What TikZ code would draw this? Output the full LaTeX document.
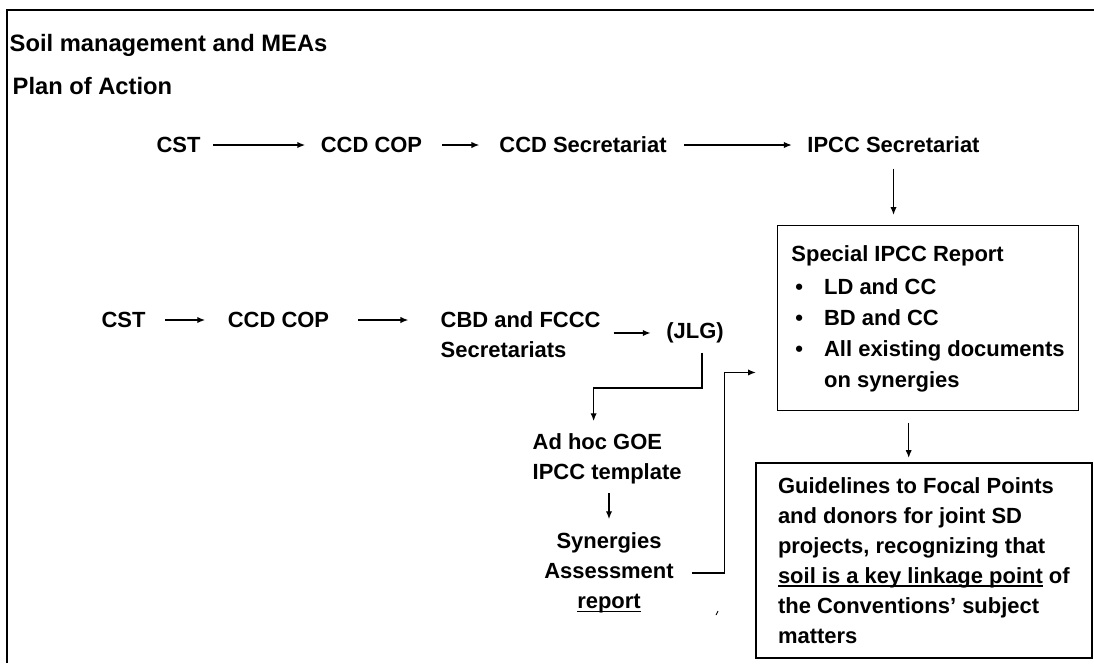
\documentclass[tikz,border=0pt]{standalone}
\usepackage{fontspec}
\setmainfont{Liberation Sans}
\usetikzlibrary{arrows.meta}
\newcommand{\ulbar}[1]{\setbox0\hbox{#1}\rlap{\rule[-2pt]{\wd0}{0.8pt}}\box0\relax}
\begin{document}
\begin{tikzpicture}[x=0.02cm, y=-0.02cm, >={Latex[length=4.5pt,width=3.6pt]}, line width=0.8pt,
    txt/.style={inner sep=0pt, font=\fontsize{12.5}{17}\selectfont\bfseries},
    head/.style={inner sep=0pt, anchor=west, font=\fontsize{13.5}{16}\selectfont\bfseries},
    box/.style={draw, anchor=north west, font=\fontsize{12.5}{17.6}\selectfont\bfseries}]
    \useasboundingbox (0,0) rectangle (1094,663);
    \draw[line width=1.2pt] (7,663) -- (7,10) -- (1094,10);

    \node[head] (title) at (9,45) {Soil management and MEAs};
    \node[head] (plan) at (12,86) {Plan of Action};

    \node[txt] (cstA) at (178.5,145) {CST};
    \node[txt] (copA) at (371.5,145) {CCD COP};
    \node[txt] (secA) at (583,145) {CCD Secretariat};
    \node[txt] (ipccSec) at (893.5,145) {IPCC Secretariat};

    \node[txt] (cstB) at (123.5,320) {CST};
    \node[txt] (copB) at (278.5,320) {CCD COP};
    \node[txt, anchor=west, align=left] (cbd) at (440,335) {CBD and FCCC\\Secretariats};
    \node[txt] (jlg) at (695,333) {(JLG)};
    \node[txt, anchor=west, align=left] (adhoc) at (532,459) {Ad hoc GOE\\IPCC template};
    \node[txt, align=center] (syn) at (609,573) {Synergies\\Assessment\\\ulbar{report}};

    \node[box, line width=0.6pt, minimum width=6.02cm, minimum height=3.7cm] (special) at (777,225) {%
        \begin{tabular}{@{}l@{\hspace{0.42cm}}l@{}}
        \multicolumn{2}{@{}l@{}}{Special IPCC Report}\\[1.5pt]
        \hspace{0.08cm}\textbullet & LD and CC\\
        \hspace{0.08cm}\textbullet & BD and CC\\
        \hspace{0.08cm}\textbullet & All existing documents\\
        & on synergies
        \end{tabular}};
    \node[box, line width=1pt, minimum width=6.72cm, minimum height=3.9cm, align=left, inner xsep=0.4cm,
        font=\fontsize{12.5}{17.07}\selectfont\bfseries] (guide) at (755,462)
        {Guidelines to Focal Points\\and donors for joint SD\\projects, recognizing that\\\ulbar{soil is a key linkage point} of\\the Conventions’ subject\\matters};

    \draw[->, shorten <=7pt, shorten >=8.5pt] (cstA) -- (copA);
    \draw[->, shorten <=11pt, shorten >=11pt] (copA) -- (secA);
    \draw[->, shorten <=9.5pt, shorten >=8.5pt] (secA) -- (ipccSec);
    \draw[->, shorten <=8.5pt, shorten >=5.7pt] (ipccSec.south) -- (ipccSec.south |- special.north);
    \draw[->, shorten <=6.8pt, shorten >=2.3pt] ([xshift=-11pt]special.south) -- ([xshift=-11pt]special.south |- guide.north);

    \draw[->, shorten <=11pt, shorten >=12.5pt] (cstB) -- (copB);
    \draw[->, shorten <=16pt, shorten >=18pt] (copB) -- (copB -| cbd.west);
    \draw[->, shorten <=7pt, shorten >=8.5pt] (cbd.east |- jlg.west) -- (jlg.west);
    \draw[->, shorten <=5pt, shorten >=6.8pt] ([xshift=4pt]jlg.south) -- ++(0,44) -| ([xshift=-7.7pt]adhoc.north);
    \draw[->, shorten <=4.8pt, shorten >=7.4pt] (adhoc.south -| syn.north) -- (syn.north);
    \draw[->, shorten <=10pt, shorten >=12pt] (syn.east) -- ++(50,0) |- ([yshift=-31pt]special.west);

    \draw[line width=0.5pt] (716,615) -- (718,611);
\end{tikzpicture}
\end{document}
